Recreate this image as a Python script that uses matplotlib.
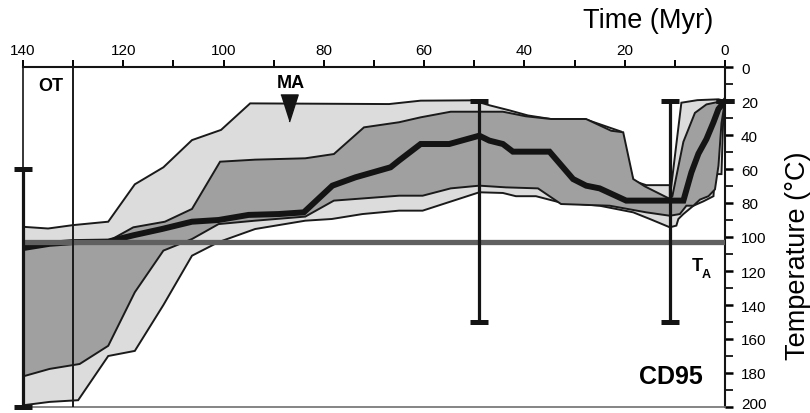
import matplotlib
matplotlib.use("Agg")
from matplotlib import pyplot as plt
from matplotlib.transforms import ScaledTranslation
import numpy as np

plt.rcParams['font.family'] = ['Liberation Sans', 'DejaVu Sans']

# acceptable envelope (light grey): upper (cool) and lower (hot) boundaries
light_top_t = [140, 135, 130, 123, 117.7, 112, 106.3, 100.5, 94.7, 67, 60.7, 50.3, 47, 43, 39.3,
               34.7, 28, 20.7, 18.3, 15.7, 11, 11, 8.7, 5.5, 1.3, 0]
light_top_T = [94, 95, 93, 91, 69, 59, 43, 37, 21.4, 21.8, 19.8, 19.6, 22.5, 25.5, 28.5,
               30.6, 30.6, 38, 67, 69.5, 69.5, 77, 21, 19.5, 19, 20]
light_bot_t = [140, 134.7, 129, 123, 117.7, 112, 106.3, 101, 93.7, 83.7, 78.4, 72.3, 65, 60.3,
               49, 44.3, 41.7, 37.7, 33, 25, 18.3, 15, 11, 9.7, 9.3, 8.3, 6.3, 4.3, 2.3, 2,
               0.7, 0.3, 0]
light_bot_T = [199, 197, 196, 170, 167, 140, 111, 103, 95.3, 90.4, 89.4, 86.5, 84.5, 84.5,
               73.7, 74.1, 76, 76, 79.6, 81.6, 85.5, 89.4, 94.3, 93.3, 89.4, 86.5, 81.6, 79, 76, 63,
               63, 25, 20]

# good envelope (dark grey)
dark_top_t = [140, 130, 123, 118, 111.7, 106.3, 100.7, 93.7, 83.7, 78, 72, 65, 60.7, 54.7, 44.3,
              39.7, 34.7, 27.7, 22.7, 20.3, 18.3, 16, 11, 10.5, 8.3, 6, 3.7, 0.5, 0]
dark_top_T = [105, 103, 102.5, 94.3, 91, 83.5, 55.7, 54.5, 53.7, 51.2, 35.5, 32.5, 29.6, 26.3, 26.3,
              29, 30.6, 30.6, 37.5, 38.4, 65.9, 70.2, 77.6, 76, 44, 27, 22, 20, 20]
dark_bot_t = [140, 134.7, 128.7, 123, 117.7, 112, 106.3, 101, 93.7, 83.7, 78, 65, 60.3, 54.7, 49,
              43.7, 37.3, 32.7, 23, 15.7, 11, 9, 7.7, 6.3, 5, 3.3, 2, 1.3, 0.7, 0]
dark_bot_T = [182, 177.6, 174.7, 164, 132.5, 108, 101.2, 92.4, 90.4, 88, 78.6, 75.7, 75.7, 71.4, 69.8,
              70.8, 71.4, 80.6, 81.6, 85.5, 87.5, 86.5, 81.6, 81.6, 78, 76, 72, 58, 33, 20]

# best-fit path
best_t = [140, 134.7, 130, 123, 118, 112.3, 106.3, 101, 95, 89, 84, 78.3, 73.7, 66.7, 65, 60.7, 55,
          49, 47, 44.3, 42.3, 35, 30.3, 27.7, 25, 19.7, 8.3, 6.7, 5.3, 3.7, 2.3, 1.3, 0]
best_T = [106.5, 104, 103, 102.7, 99, 95.3, 91, 90, 87, 86.5, 85.5, 69.8, 64.9, 59, 55, 45.3, 45.3,
          40.4, 43.3, 45.3, 49.8, 49.8, 65.9, 69.8, 71.4, 78.6, 78.6, 62, 51, 42.4, 32.5, 24.7, 20]

# constraint boxes (time, T min, T max)
con_t = [140, 49, 11, 0]
con_lo = [60, 20, 20, 20]
con_hi = [200, 150, 150, 20]

T_A = 103
OT_age = 130
MA_age = 87

fig = plt.figure(figsize=(8.1, 4.14), dpi=100)
ax = fig.add_axes([23 / 810, 6 / 414, 702 / 810, 340 / 414])
ax.set_xlim(140, 0)
ax.set_ylim(200, 0)

def envelope(tt, tT, bt, bT):
    xs = np.concatenate([tt, bt[::-1]])
    ys = np.concatenate([tT, bT[::-1]])
    return xs, ys

xs, ys = envelope(np.array(light_top_t), np.array(light_top_T),
                  np.array(light_bot_t), np.array(light_bot_T))
ax.fill(xs, ys, facecolor='#dcdcdc', edgecolor='#1a1a1a', lw=1.4, zorder=1)
xs, ys = envelope(np.array(dark_top_t), np.array(dark_top_T),
                  np.array(dark_bot_t), np.array(dark_bot_T))
ax.fill(xs, ys, facecolor='#a0a0a0', edgecolor='#1a1a1a', lw=1.4, zorder=2)

ax.plot(best_t, best_T, color='#141414', lw=4.3, solid_joinstyle='miter', zorder=3)
ax.axhline(T_A, color='#606060', lw=3.8, zorder=4)
ax.axvline(OT_age, color='#1a1a1a', lw=1.4, zorder=5)

con_lo = np.array(con_lo)
con_hi = np.array(con_hi)
mid = (con_lo + con_hi) / 2
err = (con_hi - con_lo) / 2
ax.errorbar(con_t, mid, yerr=err, fmt='none', ecolor='#141414', elinewidth=2.3,
            capsize=6.8, capthick=3.6, zorder=6, clip_on=False)

# labels inside the plot
ax.text(134.5, 11, 'OT', fontsize=13, fontweight='bold', ha='center', va='center')
ax.text(86.6, 9, 'MA', fontsize=13, fontweight='bold', ha='center', va='center')
ax.plot([MA_age], [24], marker=[(-0.32, 0.5), (0.32, 0.5), (0, -0.5)], markersize=19.5,
        color='#141414', zorder=6)
ax.text(4.5, 117, 'T', fontsize=13, fontweight='bold', ha='right', va='center')
ax.text(4.7, 122, 'A', fontsize=9, fontweight='bold', ha='left', va='center')
ax.text(4.4, 182, 'CD95', fontsize=18, fontweight='bold', ha='right', va='center')

# axes: time on top, temperature on right
ax.xaxis.set_ticks_position('top')
ax.xaxis.set_label_position('top')
ax.yaxis.set_ticks_position('right')
ax.set_xticks(np.arange(0, 141, 20))
ax.set_xticks(np.arange(0, 141, 10), minor=True)
ax.set_yticks(np.arange(0, 201, 20))
ax.set_yticks(np.arange(0, 201, 10), minor=True)
ax.tick_params(axis='x', which='both', direction='out', length=5, width=1.4,
               labelsize=11, pad=2)
ax.tick_params(axis='y', which='major', direction='out', length=5.5, width=1.8,
               labelsize=11, pad=6)
ax.tick_params(axis='y', which='minor', direction='out', length=5.5, width=1.2)

# keep the bottom "200" label inside the picture
last = ax.get_yticklabels()[-1]
last.set_transform(last.get_transform() + ScaledTranslation(0, 4 / 100, fig.dpi_scale_trans))

for side in ['top', 'right']:
    ax.spines[side].set_linewidth(1.5)
    ax.spines[side].set_color('#141414')
ax.spines['left'].set_linewidth(1.2)
ax.spines['left'].set_color('#141414')
ax.spines['bottom'].set_linewidth(1.2)
ax.spines['bottom'].set_color('#707070')

fig.text(713 / 810, 1 - 28 / 414, 'Time (Myr)', fontsize=19.5, ha='right', va='baseline')
fig.text(805 / 810, 1 - 256 / 414, 'Temperature (°C)', fontsize=19.5, rotation=90,
         rotation_mode='anchor', ha='center', va='baseline')

fig.savefig('out.png', dpi=100)
